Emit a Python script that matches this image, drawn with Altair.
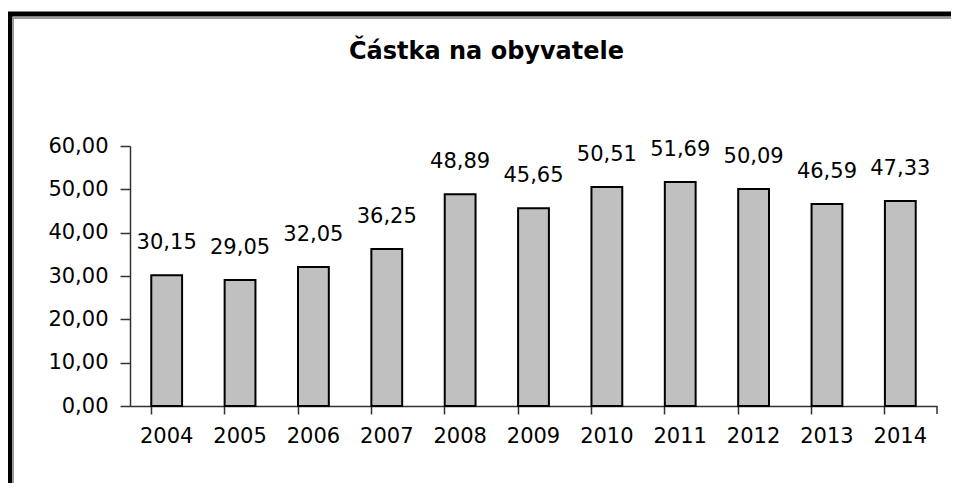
import altair as alt
import pandas as pd

years = ["2004", "2005", "2006", "2007", "2008", "2009", "2010", "2011", "2012", "2013", "2014"]
values = [30.15, 29.05, 32.05, 36.25, 48.89, 45.65, 50.51, 51.69, 50.09, 46.59, 47.33]
y_ticks = [0, 10, 20, 30, 40, 50, 60]
title_text = "Částka na obyvatele"

W, H = 807, 260
FONT = "DejaVu Sans"
FS = 21

df = pd.DataFrame({"year": years, "value": values})
base = alt.Chart(df).transform_calculate(
    label="replace(format(datum.value, '.2f'), '.', ',')"
)

x_enc = alt.X(
    "year:N",
    sort=years,
    scale=alt.Scale(paddingInner=0.58, paddingOuter=0.29),
    axis=alt.Axis(
        title=None, labelAngle=0, bandPosition=0, tickSize=8, labelPadding=11,
        labelFont=FONT, labelFontSize=FS, labelColor="black",
        domainColor="#333333", domainWidth=1.5, tickColor="#333333", tickWidth=1.5,
    ),
)
y_enc = alt.Y(
    "value:Q",
    scale=alt.Scale(domain=[0, 60], nice=False),
    axis=alt.Axis(
        title=None, values=y_ticks, grid=False, tickSize=10, labelPadding=12,
        labelExpr="replace(format(datum.value, '.2f'), '.', ',')",
        labelFont=FONT, labelFontSize=FS, labelColor="black",
        domainColor="#333333", domainWidth=1.5, tickColor="#333333", tickWidth=1.5,
    ),
)

bars = base.mark_bar(fill="#c0c0c0", stroke="black", strokeWidth=2).encode(x=x_enc, y=y_enc)
texts = base.mark_text(baseline="alphabetic", dy=-26, font=FONT, fontSize=FS, color="black").encode(
    x=alt.X("year:N", sort=years), y="value:Q", text="label:N"
)

frame_df = pd.DataFrame({"k": [0]})
frame_outer = alt.Chart(frame_df).mark_rect(fill=None, stroke="black", strokeWidth=5).encode(
    x=alt.value(-120), x2=alt.value(900), y=alt.value(-132), y2=alt.value(420)
)
frame_inner = alt.Chart(frame_df).mark_rect(fill=None, stroke="#999999", strokeWidth=2).encode(
    x=alt.value(-117), x2=alt.value(900), y=alt.value(-128), y2=alt.value(420)
)
end_tick = alt.Chart(frame_df).mark_rule(color="#333333", strokeWidth=1.5).encode(
    x=alt.value(W), y=alt.value(H), y2=alt.value(H + 8)
)

chart = alt.layer(frame_outer, frame_inner, bars, texts, end_tick).properties(
    width=W,
    height=H,
    autosize=alt.AutoSizeParams(type="none"),
    padding={"left": 122, "top": 138, "right": 14, "bottom": 77},
    background="white",
    title=alt.TitleParams(
        title_text, font=FONT, fontSize=24, fontWeight="bold", color="black",
        anchor="middle", dx=-47, offset=-52,
    ),
).configure_view(stroke=None)

chart.save("out.html", embed_options={"renderer": "svg", "actions": False})
